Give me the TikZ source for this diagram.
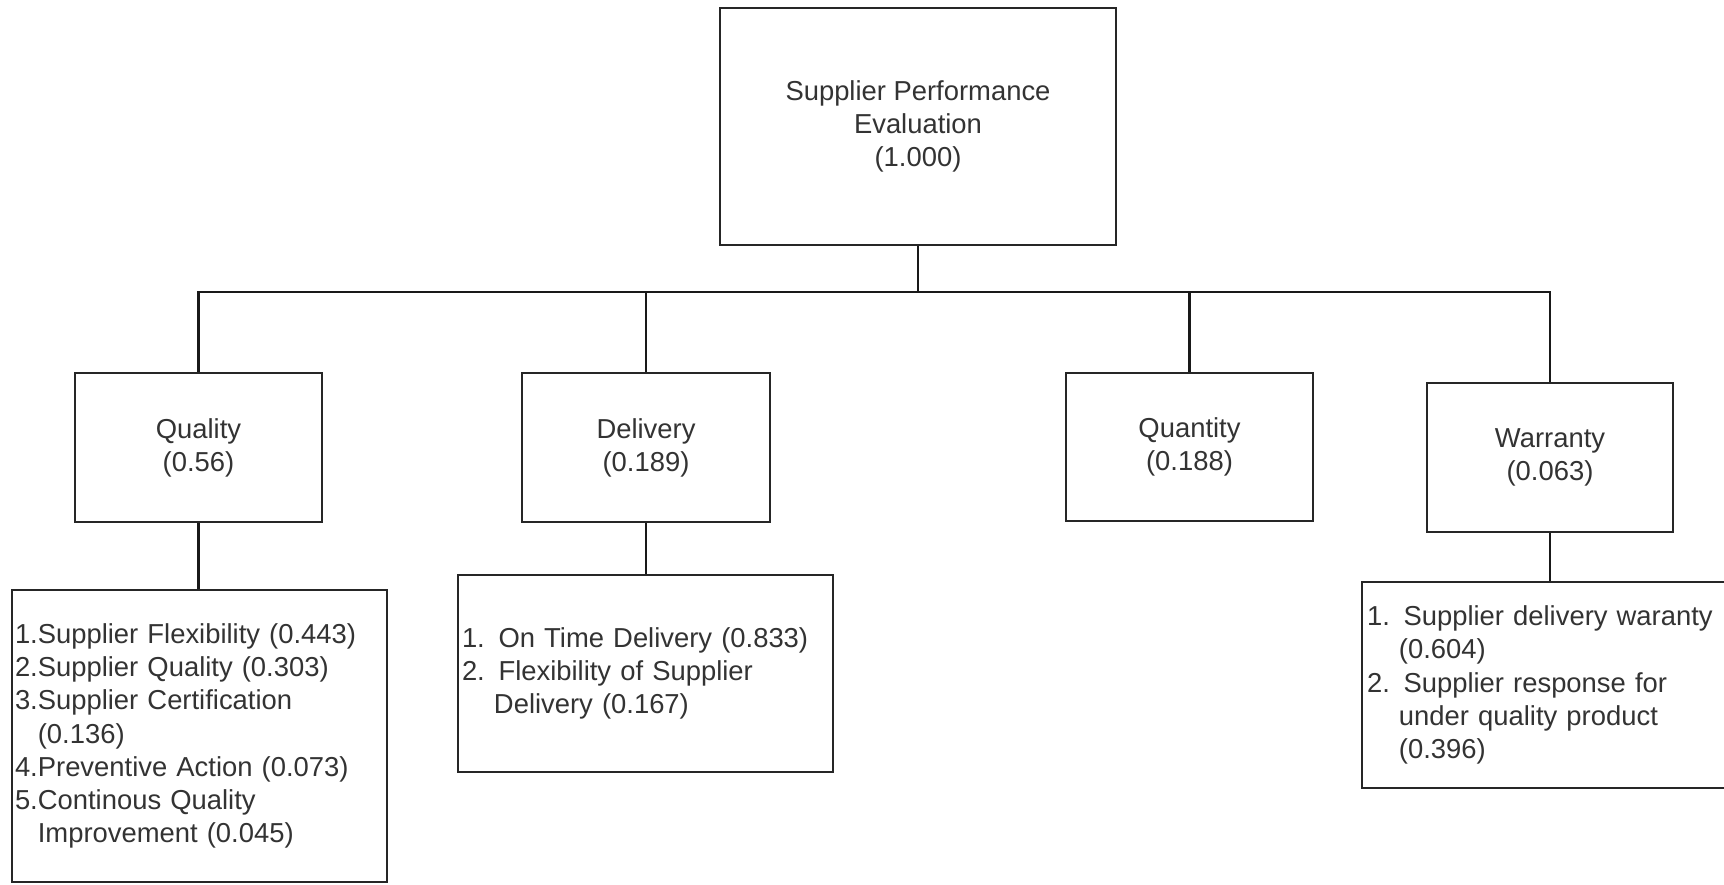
\documentclass[tikz,border=0pt]{standalone}
\usepackage{fontspec}
\setmainfont{Liberation Sans}
\begin{document}
\begin{tikzpicture}[x=1pt,y=-1pt,
  every node/.style={font=\fontsize{27.4}{33.2}\selectfont, text=black!80},
  box/.style={draw=black!85, line width=2.4pt, align=center, inner sep=0pt},
  listbox/.style={draw=black!85, line width=2.4pt, align=left, inner ysep=0pt},
  link/.style={draw=black!90, line width=2.2pt}]
\useasboundingbox (0,0) rectangle (1724,884);
\clip (0,0) rectangle (1724,884);
\fill[white] (0,0) rectangle (1724,884);

% goal
\node[box, minimum width=396, minimum height=237] (top) at (918,126.5)
  {Supplier Performance\\Evaluation\\(1.000)};

% criteria
\node[box, minimum width=247, minimum height=149] (quality)  at (198.5,447.5) {Quality\\(0.56)};
\node[box, minimum width=248, minimum height=149] (delivery) at (646,447.5)   {Delivery\\(0.189)};
\node[box, minimum width=247, minimum height=148] (quantity) at (1189.5,447)  {Quantity\\(0.188)};
\node[box, minimum width=246, minimum height=149] (warranty) at (1550,457.5)  {Warranty\\(0.063)};

% sub-criteria
\node[listbox, inner xsep=3, text width=369, minimum height=292] (qsub) at (199.5,736)
  {1.Supplier Flexibility (0.443)\\
   2.Supplier Quality (0.303)\\
   3.Supplier Certification\\
   \hphantom{3.}(0.136)\\
   4.Preventive Action (0.073)\\
   5.Continous Quality\\
   \hphantom{5.}Improvement (0.045)};
\node[listbox, inner xsep=4, text width=367, minimum height=197] (dsub) at (645.5,673.5)
  {1. On Time Delivery (0.833)\\
   2. Flexibility of Supplier\\
   \hphantom{2.\ }Delivery (0.167)};
\node[listbox, inner xsep=5, text width=365, minimum height=206] (wsub) at (1549.5,685)
  {1. Supplier delivery waranty\\
   \hphantom{1.\ }(0.604)\\
   2. Supplier response for\\
   \hphantom{2.\ }under quality product\\
   \hphantom{2.\ }(0.396)};

% tree connectors
\coordinate (bus) at (918,292);
\draw[link] (top.south) -- (bus);
\draw[link] (quality.north) -- (quality.north |- bus) -- (warranty.north |- bus) -- (warranty.north);
\draw[link] (delivery.north) -- (delivery.north |- bus);
\draw[link] (quantity.north) -- (quantity.north |- bus);
\draw[link] (quality.south) -- (quality.south |- qsub.north);
\draw[link] (delivery.south) -- (delivery.south |- dsub.north);
\draw[link] (warranty.south) -- (warranty.south |- wsub.north);
\end{tikzpicture}
\end{document}
